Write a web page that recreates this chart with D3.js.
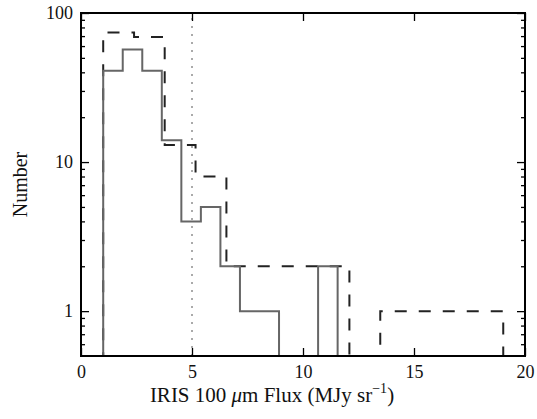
<!DOCTYPE html>
<html><head><meta charset="utf-8">
<script src="https://cdn.jsdelivr.net/npm/d3@7"></script>
<style>
body{margin:0;background:#fff;}
text{font-family:"Liberation Serif","DejaVu Serif",serif;fill:#111;}
</style></head>
<body><svg id="c" width="537" height="419"></svg>
<script>
// ---- data ----
const solidEdges  = [1.00,1.88,2.76,3.64,4.52,5.40,6.28,7.16,8.04,8.92,9.80,10.68,11.56];
const solidCounts = [41,57,41,14,4,5,2,1,1,0,0,2];
const dashedEdges  = [1.00,2.39,3.77,5.16,6.55,7.93,9.32,10.71,12.09,13.48,14.87,16.25,17.64,19.02];
const dashedCounts = [74,69,13,8,2,2,2,2,0,1,1,1,1];
const cutValue = 5;
const xTicks = [0,5,10,15,20];
const yMajor = [1,10,100];
const yMinor = [0.6,0.7,0.8,0.9,2,3,4,5,6,7,8,9,20,30,40,50,60,70,80,90];

// ---- layout ----
const L=81,R=525,T=13,B=356;
const svg=d3.select("#c");
const x=d3.scaleLinear().domain([0,20]).range([L,R]);
const y=d3.scaleLog().domain([0.5,100]).range([B,T]);
const floor=0.1;

svg.append("defs").append("clipPath").attr("id","pc")
  .append("rect").attr("x",L).attr("y",T).attr("width",R-L).attr("height",B-T);

function stepPts(edges,counts){
  const pts=[[edges[0],floor]];
  counts.forEach((c,i)=>{
    const v=c>0?c:floor;
    pts.push([edges[i],v]);pts.push([edges[i+1],v]);
  });
  pts.push([edges[edges.length-1],floor]);
  return pts;
}
const line=d3.line().x(d=>x(d[0])).y(d=>y(d[1]));
const g=svg.append("g").attr("clip-path","url(#pc)");

g.append("line").attr("x1",x(cutValue)).attr("x2",x(cutValue)).attr("y1",B).attr("y2",T)
  .attr("stroke","#aaaaaa").attr("stroke-width",2).attr("stroke-dasharray","2,6");

g.append("path").attr("d",line(stepPts(dashedEdges,dashedCounts)))
  .attr("fill","none").attr("stroke","#222").attr("stroke-width",2)
  .attr("stroke-dasharray","12,12");
g.append("path").attr("d",line(stepPts(solidEdges,solidCounts)))
  .attr("fill","none").attr("stroke","#666").attr("stroke-width",2);

// ---- axes ----
function styleAx(sel){sel.select(".domain").remove();sel.selectAll("line").attr("stroke","#000").attr("stroke-width",1.3);}
svg.append("g").attr("transform",`translate(0,${B})`)
  .call(d3.axisBottom(x).tickValues(xTicks).tickSize(-8).tickPadding(9).tickFormat(d3.format("d")))
  .call(styleAx).selectAll("text").attr("font-size",18).attr("fill","#111");
svg.append("g").attr("transform",`translate(0,${T})`)
  .call(d3.axisTop(x).tickValues(xTicks).tickSize(-8).tickFormat(""))
  .call(styleAx);
svg.append("g").attr("transform",`translate(${L},0)`)
  .call(d3.axisLeft(y).tickValues(yMinor).tickSize(-4).tickFormat(""))
  .call(styleAx);
svg.append("g").attr("transform",`translate(${L},0)`)
  .call(d3.axisLeft(y).tickValues(yMajor).tickSize(-8).tickPadding(8).tickFormat(d3.format("d")))
  .call(styleAx).selectAll("text").attr("font-size",18).attr("fill","#111");
svg.append("g").attr("transform",`translate(${R},0)`)
  .call(d3.axisRight(y).tickValues(yMinor).tickSize(-4).tickFormat(""))
  .call(styleAx);
svg.append("g").attr("transform",`translate(${R},0)`)
  .call(d3.axisRight(y).tickValues(yMajor).tickSize(-8).tickFormat(""))
  .call(styleAx);

svg.append("rect").attr("x",L).attr("y",T).attr("width",R-L).attr("height",B-T)
  .attr("fill","none").attr("stroke","#000").attr("stroke-width",2);

// ---- labels ----
const xl=svg.append("text").attr("x",272).attr("y",402).attr("text-anchor","middle").attr("font-size",21);
xl.append("tspan").text("IRIS 100 ");
xl.append("tspan").attr("font-style","italic").text("μ");
xl.append("tspan").text("m Flux (MJy sr");
xl.append("tspan").attr("font-size",14).attr("dy",-9).text("−1");
xl.append("tspan").attr("dy",9).text(")");

svg.append("text").attr("transform",`translate(27,${(T+B)/2}) rotate(-90)`)
  .attr("text-anchor","middle").attr("font-size",20).text("Number");
</script></body></html>
